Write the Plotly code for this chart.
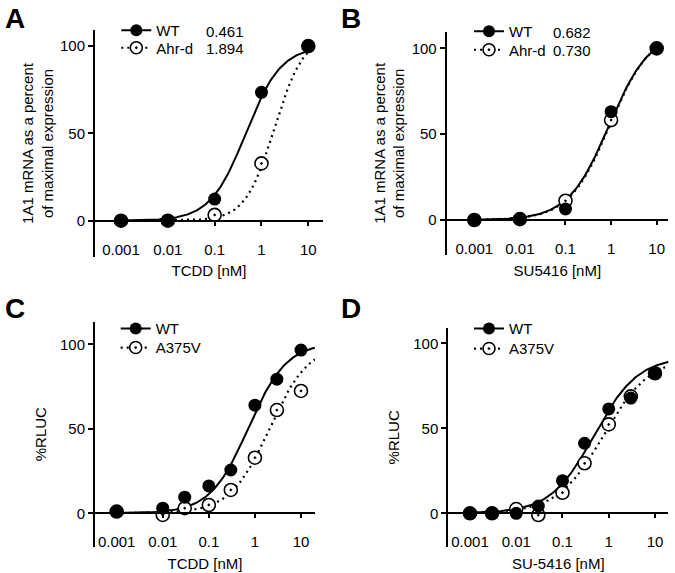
import numpy as np
import plotly.graph_objects as go

FONT = "Liberation Sans, Arial, Helvetica, sans-serif"

# ---------------- data ----------------
# Panel A: 1A1 mRNA vs TCDD
a_dose = [0.001, 0.01, 0.1, 1, 10]
a_wt = [0, 0, 12.4, 73.5, 100]
a_mut = [0, 0, 3.3, 32.8, 100]
a_names = ["WT", "Ahr-d"]
a_values = ["0.461", "1.894"]
a_xtitle = "TCDD [nM]"
a_ytitle = "1A1 mRNA as a percent<br>of maximal expression"

# Panel B: 1A1 mRNA vs SU5416
b_dose = [0.001, 0.01, 0.1, 1, 10]
b_wt = [0, 0.8, 6.4, 63.1, 100]
b_mut = [0, 0.5, 11.2, 58.2, 100]
b_names = ["WT", "Ahr-d"]
b_values = ["0.682", "0.730"]
b_xtitle = "SU5416 [nM]"
b_ytitle = "1A1 mRNA as a percent<br>of maximal expression"

# Panel C: %RLUC vs TCDD
c_dose = [0.001, 0.01, 0.03, 0.1, 0.3, 1, 3, 10]
c_wt = [1.0, 3.0, 9.5, 16.2, 25.6, 64.0, 79.4, 96.6]
c_mut = [1.0, -1.0, 3.0, 4.9, 13.8, 32.9, 61.1, 72.4]
c_names = ["WT", "A375V"]
c_xtitle = "TCDD [nM]"
c_ytitle = "%RLUC"

# Panel D: %RLUC vs SU-5416
d_dose = [0.001, 0.003, 0.01, 0.03, 0.1, 0.3, 1, 3, 10]
d_wt = [0, 0, 0, 4.3, 19.2, 41.2, 61.4, 67.8, 82.4]
d_mut = [0, 0, 2.5, -1.0, 12.1, 29.4, 52.3, 68.8, 82.4]
d_names = ["WT", "A375V"]
d_xtitle = "SU-5416 [nM]"
d_ytitle = "%RLUC"

# fitted dose-response curves (top, midpoint, slope, x-start, x-end), estimated from the drawn curves
a_fit_wt = [100, 0.461, 1.15, 0.001, 10]
a_fit_mut = [106, 1.894, 1.4, 0.001, 10]
b_fit_wt = [110, 0.90, 0.97, 0.001, 10]
b_fit_mut = [110, 0.93, 0.98, 0.001, 10]
c_fit_wt = [101, 0.72, 1.05, 0.001, 20]
c_fit_mut = [100, 2.05, 1.02, 0.001, 20]
d_fit_wt = [92, 0.484, 0.92, 0.001, 20]
d_fit_mut = [92, 0.778, 0.87, 0.001, 20]

x_tickvals = [0.001, 0.01, 0.1, 1, 10]
x_ticktext = ["0.001", "0.01", "0.1", "1", "10"]
y_tickvals = [0, 50, 100]

panel_letters = ["A", "B", "C", "D"]


def hill(p):
    top, mid, slope, x0, x1 = p
    xs = np.logspace(np.log10(x0), np.log10(x1), 200)
    return xs, top / (1.0 + (mid / xs) ** slope)


W, H = 675, 573


def px_x(p):
    return p / W


def px_y(p):
    return 1 - p / H


fig = go.Figure()

DOT = "2px,4px"
filled = dict(symbol="circle", size=13, color="black", line=dict(width=0))
opened = dict(symbol="circle-dot", size=13, color="white", line=dict(color="black", width=1.6))

panels = [
    (a_dose, a_wt, a_mut, a_names, a_fit_wt, a_fit_mut, "x", "y"),
    (b_dose, b_wt, b_mut, b_names, b_fit_wt, b_fit_mut, "x2", "y2"),
    (c_dose, c_wt, c_mut, c_names, c_fit_wt, c_fit_mut, "x3", "y3"),
    (d_dose, d_wt, d_mut, d_names, d_fit_wt, d_fit_mut, "x4", "y4"),
]


def legend_key(n):
    return "legend" if n == 1 else "legend" + str(n)


for i, (dose, wt, mut, names, fw, fm, xa, ya) in enumerate(panels):
    xs, ys = hill(fw)
    fig.add_trace(go.Scatter(x=xs, y=ys, mode="lines", line=dict(color="black", width=2),
                             xaxis=xa, yaxis=ya, showlegend=False, hoverinfo="skip"))
    xs, ys = hill(fm)
    fig.add_trace(go.Scatter(x=xs, y=ys, mode="lines", line=dict(color="black", width=2.2, dash=DOT),
                             xaxis=xa, yaxis=ya, showlegend=False, hoverinfo="skip"))
    fig.add_trace(go.Scatter(x=dose, y=mut, mode="markers", marker=opened,
                             xaxis=xa, yaxis=ya, showlegend=False, name=names[1]))
    fig.add_trace(go.Scatter(x=dose, y=wt, mode="markers", marker=filled,
                             xaxis=xa, yaxis=ya, showlegend=False, name=names[0]))
    # legend entries (one legend per entry so rows can sit close together)
    fig.add_trace(go.Scatter(x=[None], y=[None], mode="lines+markers", name=names[0],
                             marker=dict(symbol="circle", size=12, color="black", line=dict(width=0)),
                             line=dict(color="black", width=2), xaxis=xa, yaxis=ya,
                             legend=legend_key(2 * i + 1)))
    fig.add_trace(go.Scatter(x=[None], y=[None], mode="lines+markers", name=names[1],
                             marker=dict(symbol="circle-dot", size=12, color="white",
                                         line=dict(color="black", width=1.6)),
                             line=dict(color="black", width=2.2, dash=DOT), xaxis=xa, yaxis=ya,
                             legend=legend_key(2 * i + 2)))

# geometry per panel: x-left px, x-right px, y-top px, y-bottom px, y range, x log range, y0 px
geom = [
    (95, 323, 30, 257, [-20.8, 109.2], [-3.556, 1.314], 220.7),
    (446.7, 668, 31.7, 255, [-20.4, 109.7], [-3.605, 1.248], 220.0),
    (95, 315, 321.7, 546.7, [-19.8, 113.4], [-3.47, 1.304], 513.3),
    (448.3, 668.3, 328, 546.7, [-19.65, 109.0], [-3.469, 1.288], 513.3),
]
xtitles = [a_xtitle, b_xtitle, c_xtitle, d_xtitle]
ytitles = [a_ytitle, b_ytitle, c_ytitle, d_ytitle]
ystandoff = [3, 3, 10, 10]

axis_font = dict(family=FONT, size=15, color="black")
layout = {}
for i, (xl, xr, yt, yb, yr, xrg, y0) in enumerate(geom):
    sfx = "" if i == 0 else str(i + 1)
    layout["xaxis" + sfx] = dict(
        type="log", domain=[px_x(xl), px_x(xr)], range=xrg, anchor="free", position=px_y(y0),
        showline=True, linewidth=2, linecolor="black", ticks="outside", ticklen=4, tickwidth=2,
        tickcolor="black", tickvals=x_tickvals, ticktext=x_ticktext, ticklabelstandoff=11,
        showgrid=False, zeroline=False, tickfont=axis_font,
        title=dict(text=xtitles[i], font=axis_font, standoff=8),
    )
    layout["yaxis" + sfx] = dict(
        domain=[px_y(yb), px_y(yt)], range=yr, anchor="x" + sfx,
        showline=True, linewidth=2, linecolor="black", ticks="outside", ticklen=5, tickwidth=2,
        tickcolor="black", tickvals=y_tickvals, showgrid=False, zeroline=False, tickfont=axis_font,
        title=dict(text=ytitles[i], font=axis_font, standoff=ystandoff[i]),
    )

# legend row centres (marker centre x, row centre y) in page pixels
legend_rows = [
    (137.3, 31), (137.3, 48.5),
    (490, 32), (490, 50.5),
    (136.7, 329.3), (136.7, 348.3),
    (490, 329.3), (490, 349.3),
]
for n, (mx, my) in enumerate(legend_rows, start=1):
    layout[legend_key(n)] = dict(x=px_x(mx - 21), y=px_y(my - 17), xanchor="left", yanchor="top",
                                 bgcolor="rgba(0,0,0,0)", font=axis_font)

annotations = []
letter_pos = [(15, 18), (351, 18), (15, 308.5), (351, 308.5)]
for t, (lx, ly) in zip(panel_letters, letter_pos):
    annotations.append(dict(text="<b>" + t + "</b>", x=px_x(lx), y=px_y(ly), xref="paper", yref="paper",
                            xanchor="center", yanchor="middle", showarrow=False,
                            font=dict(family=FONT, size=28, color="black")))

value_pos = [(a_values, 204, [31, 48.5]), (b_values, 551, [32, 50.5])]
for vals, vx, vys in value_pos:
    for v, vy in zip(vals, vys):
        annotations.append(dict(text=v, x=px_x(vx), y=px_y(vy), xref="paper", yref="paper",
                                xanchor="left", yanchor="middle", showarrow=False, font=axis_font))

fig.update_layout(
    width=W, height=H, margin=dict(l=0, r=0, t=0, b=0),
    paper_bgcolor="white", plot_bgcolor="white",
    font=dict(family=FONT, size=15, color="black"),
    annotations=annotations, **layout,
)

fig.write_html("out.html", config={"displayModeBar": False},
               post_script="document.body.style.margin='0';")
